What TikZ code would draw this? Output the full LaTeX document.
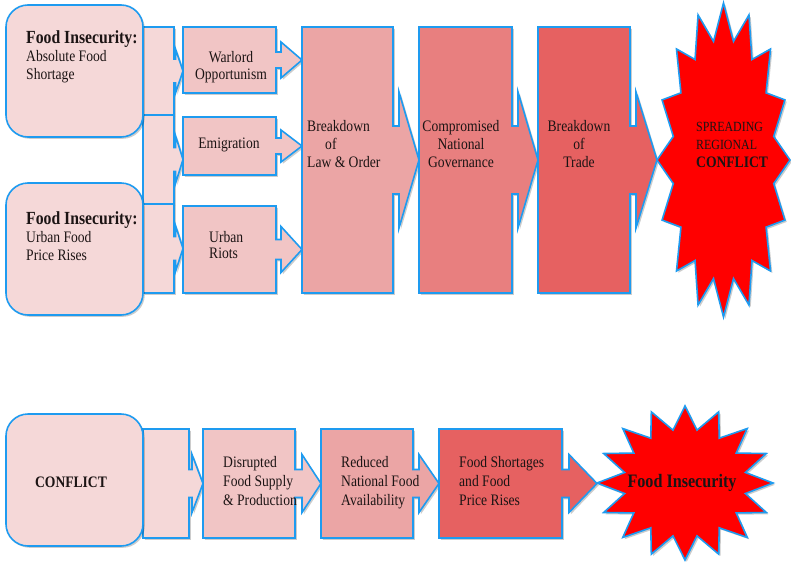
\documentclass[tikz,border=0pt]{standalone}
\usepackage{fontspec}
\setmainfont[FakeStretch=0.85]{Liberation Serif}
\usetikzlibrary{backgrounds,shadows,calc}

\definecolor{edgeblue}{RGB}{30,155,240}
\definecolor{pinkA}{RGB}{245,216,216}
\definecolor{pinkB}{RGB}{241,197,197}
\definecolor{pinkC}{RGB}{235,165,165}
\definecolor{pinkD}{RGB}{232,127,127}
\definecolor{pinkE}{RGB}{230,97,97}
\definecolor{burstred}{RGB}{255,0,0}
\definecolor{ink}{RGB}{28,20,20}

\newcommand\titlebf{\fontsize{18.5}{18}\selectfont\bfseries}

% box with a right-pointing arrow head reaching the west side of the target
% #1 fill, #2 body node, #3 target node, #4 shaft half-height, #5 head half-height, #6 shaft length
\newcommand\arrowbox[6]{%
  \draw[outline, shade, fill=#1]
    (#2.north west) -- (#2.north east)
    -- ($(#2.east)+(0,-#4)$) -- ++(#6,0) -- ++(0,{#4-#5})
    -- (#2.east -| #3.west)
    -- ($(#2.east)+(#6,#5)$) -- ++(0,{#4-#5}) -- ($(#2.east)+(0,#4)$)
    -- (#2.south east) -- (#2.south west) -- cycle;
}

% sixteen-point burst inside node #1, half sizes #2 x #3, inner ratio #4
\newcommand\burstshape[4]{%
  \draw[burst] ($(#1.center)+(#2,0)$)
    \foreach \k [evaluate=\k as \ratioval using {1-(1-#4)*mod(\k,2)}] in {1,...,31}
      { -- ($(#1.center)+({#2*\ratioval*cos(\k*11.25)},{#3*\ratioval*sin(\k*11.25)})$) }
    -- cycle;
}

\begin{document}
\begin{tikzpicture}[x=1pt,y=-1pt,
  outline/.style={draw=edgeblue, line width=1.6pt, line join=miter},
  shade/.style={drop shadow={shadow xshift=1.8pt, shadow yshift=-1.8pt, opacity=0.2, fill=black}},
  roundbox/.style={outline, shade, rounded corners=22pt, fill=pinkA,
    minimum width=137pt, minimum height=132pt, inner sep=0pt},
  frame/.style={rectangle, inner sep=0pt, outer sep=0pt},
  burst/.style={outline, shade, fill=burstred},
  txt/.style={inner sep=0pt, text=ink, font=\fontsize{16}{18}\selectfont},
]
\useasboundingbox (0,0) rectangle (791,562);

% ---------- upper chain ----------
\node[frame, minimum width=31pt, minimum height=88pt] (c1) at (158.5,71) {};
\node[frame, minimum width=31pt, minimum height=89pt] (c2) at (158.5,159.5) {};
\node[frame, minimum width=31pt, minimum height=89pt] (c3) at (158.5,248.5) {};

\node[frame, minimum width=93pt, minimum height=66pt] (wo) at (229.5,60) {};
\node[frame, minimum width=93pt, minimum height=58pt] (em) at (229.5,146) {};
\node[frame, minimum width=93pt, minimum height=87pt] (ur) at (229.5,249.5) {};

\node[frame, minimum width=91pt, minimum height=266pt] (law) at (347.5,160) {};
\node[frame, minimum width=93pt, minimum height=266pt] (gov) at (465.5,160) {};
\node[frame, minimum width=92pt, minimum height=266pt] (trade) at (584,160) {};
\node[frame, minimum width=133pt, minimum height=314pt] (spread) at (723.5,160) {};

% ---------- lower chain ----------
\node[frame, minimum width=46pt, minimum height=109pt] (ca) at (166,483.5) {};
\node[frame, minimum width=92pt, minimum height=109pt] (dis) at (249,483.5) {};
\node[frame, minimum width=92pt, minimum height=109pt] (red) at (367,483.5) {};
\node[frame, minimum width=123pt, minimum height=109pt] (shrt) at (500.5,483.5) {};
\node[frame, minimum width=176pt, minimum height=154pt] (finsec) at (685,483) {};

\begin{pgfonlayer}{background}
  \arrowbox{pinkA}{c1}{wo}{12}{22}{1.5}
  \arrowbox{pinkA}{c2}{em}{12}{24}{1.5}
  \arrowbox{pinkA}{c3}{ur}{12}{23}{1.5}
  \arrowbox{pinkB}{wo}{law}{8}{18}{5}
  \arrowbox{pinkB}{em}{law}{8}{16}{5}
  \arrowbox{pinkB}{ur}{law}{10}{23}{5}
  \arrowbox{pinkC}{law}{gov}{34}{68}{6}
  \arrowbox{pinkD}{gov}{trade}{34}{68}{6}
  \arrowbox{pinkE}{trade}{spread}{34}{68}{6}
  \burstshape{spread}{66.5}{157}{0.77}

  \arrowbox{pinkA}{ca}{dis}{14}{29}{3}
  \arrowbox{pinkB}{dis}{red}{14}{29}{7}
  \arrowbox{pinkC}{red}{shrt}{14}{29}{6}
  \arrowbox{pinkE}{shrt}{finsec}{14}{29}{7}
  \burstshape{finsec}{88}{77}{0.70}
\end{pgfonlayer}

\node[roundbox] (fa) at (74.5,71) {};
\node[roundbox] (fb) at (74.5,249) {};
\node[roundbox] (cf) at (74.5,480) {};

% ---------- texts ----------
\node[txt, anchor=base west] (tfa) at (26,43)
  {\begin{tabular}[t]{@{}l@{}}{\titlebf Food Insecurity:}\\Absolute Food\\Shortage\end{tabular}};
\node[txt, anchor=base west] (tfb) at (26,224)
  {\begin{tabular}[t]{@{}l@{}}{\titlebf Food Insecurity:}\\Urban Food\\Price Rises\end{tabular}};

\node[txt, font=\fontsize{16}{17}\selectfont, anchor=base] (two) at (231,62)
  {\begin{tabular}[t]{@{}c@{}}Warlord\\Opportunism\end{tabular}};
\node[txt, anchor=base] (tem) at (229,148) {Emigration};
\node[txt, font=\fontsize{16}{16.5}\selectfont, anchor=base west] (tur) at (209,242)
  {\begin{tabular}[t]{@{}l@{}}Urban\\Riots\end{tabular}};

\node[txt, anchor=base west] (tlaw) at (307,131)
  {\begin{tabular}[t]{@{}l@{}}Breakdown\\\hspace*{18pt}of\\Law \& Order\end{tabular}};
\node[txt, anchor=base] (tgov) at (461,131)
  {\begin{tabular}[t]{@{}c@{}}Compromised\\National\\Governance\end{tabular}};
\node[txt, anchor=base] (ttrade) at (579,131)
  {\begin{tabular}[t]{@{}c@{}}Breakdown\\of\\Trade\end{tabular}};
\node[txt, font=\fontsize{14}{18}\selectfont, anchor=base west] (tspread) at (696,131)
  {\begin{tabular}[t]{@{}l@{}}SPREADING\\REGIONAL\\{\fontsize{16}{18}\selectfont\bfseries CONFLICT}\end{tabular}};

\node[txt, font=\fontsize{16}{18}\selectfont\bfseries, anchor=base] (tcf) at (71,487) {CONFLICT};
\node[txt, font=\fontsize{16}{19}\selectfont, anchor=base west] (tdis) at (223,467)
  {\begin{tabular}[t]{@{}l@{}}Disrupted\\Food Supply\\\& Production\end{tabular}};
\node[txt, font=\fontsize{16}{19}\selectfont, anchor=base west] (tred) at (341,467)
  {\begin{tabular}[t]{@{}l@{}}Reduced\\National Food\\Availability\end{tabular}};
\node[txt, font=\fontsize{16}{19}\selectfont, anchor=base west] (tshrt) at (459,467)
  {\begin{tabular}[t]{@{}l@{}}Food Shortages\\and Food\\Price Rises\end{tabular}};
\node[txt, font=\fontsize{19}{19}\selectfont\bfseries, anchor=base] (tfin) at (682,487) {Food Insecurity};
\end{tikzpicture}
\end{document}
